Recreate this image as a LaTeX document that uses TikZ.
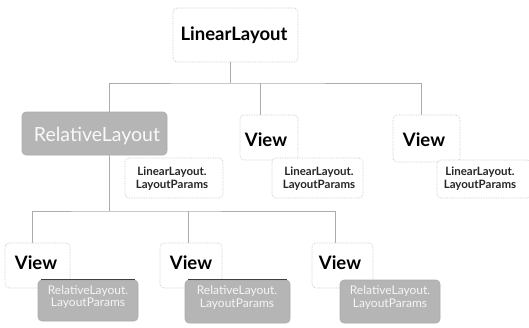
\documentclass[tikz,border=0pt]{standalone}
\usepackage{fontspec}
\setmainfont{Lato}
\begin{document}
\begin{tikzpicture}[x=1pt,y=-1pt,
  box/.style={draw=gray!45, densely dotted, line width=0.7pt, rounded corners=4pt, fill=white, inner sep=0pt},
  gbox/.style={draw=gray!65, line width=0.6pt, rounded corners=4pt, fill=gray!58, inner sep=0pt},
  big/.style={font=\fontsize{18.5}{20}\selectfont\bfseries, text=black, inner sep=0pt},
  par/.style={font=\fontsize{11.5}{13}\selectfont\bfseries, text=black!85, align=center, inner sep=0pt},
  gpar/.style={font=\fontsize{12}{12.5}\selectfont, text=gray!8, align=center, inner sep=0pt},
  conn/.style={draw=gray!65, line width=0.6pt}]
\useasboundingbox (0,0) rectangle (529,327);

% top
\node[box, minimum width=125pt, minimum height=54pt] (top) at (235.5,35) {};
\node[big] (toptxt) at (234,35) {LinearLayout};

% row 2
\node[gbox, minimum width=145pt, minimum height=43pt] (rl) at (94.5,133.5) {};
\node[font=\fontsize{19.5}{21}\selectfont, text=gray!5, inner sep=0pt] (rltxt) at (97,136) {RelativeLayout};

\node[box, minimum width=58pt, minimum height=45pt] (v2) at (269,137.5) {};
\node[big] (v2txt) at (266,140) {View};
\node[box, minimum width=67pt, minimum height=47pt] (v3) at (426.5,138.5) {};
\node[big] (v3txt) at (424,140) {View};

\node[box, minimum width=98pt, minimum height=40pt] (p1) at (174,178) {};
\node[par] (p1txt) at (172,178.5) {LinearLayout.\\LayoutParams};
\node[box, minimum width=91pt, minimum height=40pt] (p2) at (317.5,178) {};
\node[par] (p2txt) at (319,178.5) {LinearLayout.\\LayoutParams};
\node[box, minimum width=94pt, minimum height=38pt] (p3) at (484,179) {};
\node[par] (p3txt) at (480,178.5) {LinearLayout.\\LayoutParams};

% row 3
\node[box, minimum width=65pt, minimum height=45pt] (b1) at (37.5,265.5) {};
\node[big] (b1txt) at (36,263) {View};
\node[box, minimum width=62pt, minimum height=45pt] (b2) at (191,265.5) {};
\node[big] (b2txt) at (191,263) {View};
\node[box, minimum width=61pt, minimum height=45pt] (b3) at (342.5,265.5) {};
\node[big] (b3txt) at (340,263) {View};

\node[gbox, minimum width=100pt, minimum height=41pt] (q1) at (88,300.5) {};
\node[gpar] (q1txt) at (88,297) {RelativeLayout.\\LayoutParams};
\node[gbox, minimum width=105pt, minimum height=43pt] (q2) at (237.5,301.5) {};
\node[gpar] (q2txt) at (237,297.5) {RelativeLayout.\\LayoutParams};
\node[gbox, minimum width=100pt, minimum height=43pt] (q3) at (390,301.5) {};
\node[gpar] (q3txt) at (390,297.5) {RelativeLayout.\\LayoutParams};

\draw[black!75, line width=1.4pt] ([xshift=3pt]q1.north west) -- ([xshift=-3pt]q1.north east);
\draw[black!75, line width=1.4pt] ([xshift=3pt]q2.north west) -- ([xshift=-3pt]q2.north east);

% connectors row 1
\coordinate (s0) at (230,62);
\coordinate (j1) at (230,83);
\coordinate (d1) at (109,112);
\coordinate (d2) at (260,115);
\coordinate (d3) at (421,115);
\draw[conn] (s0) -- (j1);
\draw[conn] (d1) |- (j1) -| (d3);
\draw[conn] (j1 -| d2) -- (d2);

% connectors row 2
\coordinate (s1) at (109,155);
\coordinate (j2) at (109,211);
\coordinate (e1) at (32,243);
\coordinate (e2) at (188,243);
\coordinate (e3) at (335,243);
\draw[conn] (s1) -- (j2);
\draw[conn] (e1) |- (j2) -| (e3);
\draw[conn] (j2 -| e2) -- (e2);
\end{tikzpicture}
\end{document}
